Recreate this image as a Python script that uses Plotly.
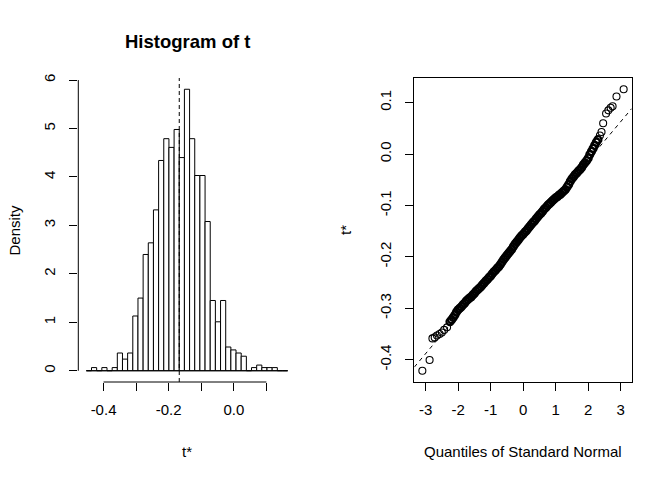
import plotly.graph_objects as go

# histogram of the bootstrap replicates t* (density scale), bins
bin_start = -0.4528
bin_width = 0.01585
density = [0, 0.065, 0, 0.065, 0, 0.065, 0.366, 0.24, 0.366, 1.13,
           1.50, 2.40, 2.64, 3.32, 4.34, 4.79, 4.61, 4.98, 4.40, 5.81,
           4.79, 4.03, 4.03, 3.08, 1.45, 1.01, 1.45, 0.49, 0.43, 0.366,
           0.30, 0, 0.065, 0.117, 0.065, 0.065, 0.065, 0, 0]
t0 = -0.1675

hist_xticks = [-0.4, -0.3, -0.2, -0.1, 0.0, 0.1]
hist_xlabels = ["-0.4", "", "-0.2", "", "0.0", ""]
hist_yticks = [0, 1, 2, 3, 4, 5, 6]

# normal Q-Q plot of t* (tails point by point,
# the dense middle band every 0.05 of a quantile)
qq_low_x = [-3.10, -2.877, -2.79, -2.72, -2.65, -2.57, -2.50, -2.43, -2.34]
qq_low_y = [-0.4214, -0.4006, -0.3585, -0.3566, -0.353, -0.350, -0.347, -0.342, -0.337]

qq_mid_x = [-2.25, -2.20, -2.15, -2.10, -2.05, -2.00, -1.95, -1.90, -1.85, -1.80,
            -1.75, -1.70, -1.65, -1.60, -1.55, -1.50, -1.45, -1.40, -1.35, -1.30,
            -1.25, -1.20, -1.15, -1.10, -1.05, -1.00, -0.95, -0.90, -0.85, -0.80,
            -0.75, -0.70, -0.65, -0.60, -0.55, -0.50, -0.45, -0.40, -0.35, -0.30,
            -0.25, -0.20, -0.15, -0.10, -0.05, 0.00, 0.05, 0.10, 0.15, 0.20,
            0.25, 0.30, 0.35, 0.40, 0.45, 0.50, 0.55, 0.60, 0.65, 0.70,
            0.75, 0.80, 0.85, 0.90, 0.95, 1.00, 1.05, 1.10, 1.15, 1.20,
            1.25, 1.30, 1.35, 1.40, 1.45, 1.50, 1.55, 1.60, 1.65, 1.70,
            1.75, 1.80, 1.85, 1.90, 1.95, 2.00, 2.05, 2.10, 2.15, 2.20,
            2.25, 2.30]
qq_mid_y = [-0.326, -0.322, -0.318, -0.313, -0.307, -0.303, -0.300, -0.297, -0.293, -0.290,
            -0.286, -0.283, -0.280, -0.278, -0.274, -0.271, -0.267, -0.264, -0.261, -0.258,
            -0.254, -0.251, -0.247, -0.244, -0.240, -0.237, -0.233, -0.229, -0.226, -0.222,
            -0.219, -0.215, -0.210, -0.205, -0.201, -0.197, -0.193, -0.189, -0.185, -0.180,
            -0.175, -0.171, -0.167, -0.163, -0.159, -0.156, -0.152, -0.149, -0.145, -0.141,
            -0.137, -0.133, -0.130, -0.126, -0.122, -0.118, -0.115, -0.111, -0.107, -0.104,
            -0.100, -0.097, -0.094, -0.091, -0.088, -0.085, -0.083, -0.080, -0.078, -0.075,
            -0.072, -0.069, -0.064, -0.059, -0.053, -0.048, -0.044, -0.040, -0.037, -0.033,
            -0.030, -0.026, -0.021, -0.017, -0.013, -0.008, -0.001, 0.005, 0.011, 0.017,
            0.023, 0.028]

qq_high_x = [2.36, 2.41, 2.46, 2.55, 2.62, 2.69, 2.75, 2.87, 3.09]
qq_high_y = [0.036, 0.043, 0.060, 0.079, 0.085, 0.090, 0.093, 0.112, 0.126]

qq_intercept = -0.1626
qq_slope = 0.0752

qq_xticks = [-3, -2, -1, 0, 1, 2, 3]
qq_yticks = [-0.4, -0.3, -0.2, -0.1, 0.0, 0.1]

FONT = "Arial, Liberation Sans, sans-serif"
W, H = 672, 480
TOP, BOTTOM = 78, 98
PLOT_H = H - TOP - BOTTOM


def px(x):
    return x / W


def py(y):
    return (H - BOTTOM - y) / PLOT_H


centers = [bin_start + (i + 0.5) * bin_width for i in range(len(density))]
bin_end = bin_start + len(density) * bin_width

qq_x = qq_low_x + qq_mid_x + qq_high_x
qq_y = qq_low_y + qq_mid_y + qq_high_y

fig = go.Figure()

fig.add_trace(go.Bar(x=centers, y=density, width=bin_width,
                     marker=dict(color="white", line=dict(color="black", width=1)),
                     xaxis="x", yaxis="y", showlegend=False))

# sparse tails: thin open circles
tail_x = qq_low_x + qq_high_x
tail_y = qq_low_y + qq_high_y
fig.add_trace(go.Scatter(x=tail_x, y=tail_y, mode="markers",
                         marker=dict(symbol="circle-open", size=7, color="black",
                                     line=dict(width=1.1, color="black")),
                         xaxis="x2", yaxis="y2", showlegend=False))
# dense middle: the many overlapping circles merge into a solid band
fig.add_trace(go.Scatter(x=qq_mid_x, y=qq_mid_y, mode="markers",
                         marker=dict(symbol="circle-open", size=7, color="black",
                                     line=dict(width=2.2, color="black")),
                         xaxis="x2", yaxis="y2", showlegend=False))

# ranges like R: 4% padding of the data range
hx_pad = 0.04 * (bin_end - bin_start)
hy_top = max(density)
qx_lo, qx_hi = min(qq_x), max(qq_x)
qy_lo, qy_hi = min(qq_y), max(qq_y)
qx_pad = 0.04 * (qx_hi - qx_lo)
qy_pad = 0.04 * (qy_hi - qy_lo)

tick_font = dict(family=FONT, size=15, color="black")

fig.update_layout(
    width=W, height=H,
    margin=dict(l=0, r=0, t=TOP, b=BOTTOM),
    paper_bgcolor="white", plot_bgcolor="white",
    font=dict(family=FONT, color="black"),
    xaxis=dict(domain=[px(78.3), px(295.7)], range=[bin_start - hx_pad, bin_end + hx_pad],
               showgrid=False, zeroline=False, showline=False,
               ticks="outside", ticklen=8, tickwidth=1, tickcolor="black",
               tickvals=hist_xticks, ticktext=hist_xlabels, tickfont=tick_font,
               ticklabelstandoff=6),
    yaxis=dict(domain=[0, 1], range=[-0.04 * hy_top, hy_top * 1.04],
               showgrid=False, zeroline=False, showline=False,
               ticks="outside", ticklen=8, tickwidth=1, tickcolor="black",
               tickvals=hist_yticks, ticktext=[str(v) for v in hist_yticks],
               tickangle=-90, tickfont=tick_font, ticklabelstandoff=8),
    xaxis2=dict(domain=[px(414.3), px(631.7)], range=[qx_lo - qx_pad, qx_hi + qx_pad],
                anchor="y2", showgrid=False, zeroline=False,
                showline=True, linecolor="black", linewidth=1, mirror=True,
                ticks="outside", ticklen=8, tickwidth=1, tickcolor="black",
                tickvals=qq_xticks, ticktext=[str(v) for v in qq_xticks],
                tickfont=tick_font, ticklabelstandoff=6),
    yaxis2=dict(domain=[0, 1], range=[qy_lo - qy_pad, qy_hi + qy_pad],
                anchor="x2", showgrid=False, zeroline=False,
                showline=True, linecolor="black", linewidth=1, mirror=True,
                ticks="outside", ticklen=8, tickwidth=1, tickcolor="black",
                tickvals=qq_yticks, ticktext=["%.1f" % v for v in qq_yticks],
                tickangle=-90, tickfont=tick_font, ticklabelstandoff=8),
)

shapes = [
    # histogram baseline (zero-height bins included)
    dict(type="line", xref="x", yref="y", x0=bin_start, x1=bin_end, y0=0, y1=0,
         line=dict(color="black", width=1)),
    # R-style axis lines spanning first to last tick
    dict(type="line", xref="x", yref="y domain", x0=hist_xticks[0], x1=hist_xticks[-1],
         y0=0, y1=0, line=dict(color="black", width=1)),
    dict(type="line", xref="x domain", yref="y", x0=0, x1=0,
         y0=hist_yticks[0], y1=hist_yticks[-1], line=dict(color="black", width=1)),
    # observed statistic
    dict(type="line", xref="x", yref="y domain", x0=t0, x1=t0, y0=0, y1=1,
         line=dict(color="black", width=1, dash="4px,3px")),
    # qqline
    dict(type="line", xref="x2", yref="y2",
         x0=qx_lo - qx_pad, x1=qx_hi + qx_pad,
         y0=qq_intercept + qq_slope * (qx_lo - qx_pad),
         y1=qq_intercept + qq_slope * (qx_hi + qx_pad),
         line=dict(color="black", width=1, dash="4px,4px")),
]
fig.update_layout(shapes=shapes)

ann = dict(xref="paper", yref="paper", showarrow=False,
           xanchor="center", yanchor="middle",
           font=dict(family=FONT, size=15, color="black"))
fig.add_annotation(ann, x=px(187), y=py(41), text="<b>Histogram of t</b>",
                   font=dict(family=FONT, size=18.5, color="black"))
fig.add_annotation(ann, x=px(187), y=py(451), text="t*")
fig.add_annotation(ann, x=px(13.5), y=py(230), text="Density", textangle=-90)
fig.add_annotation(ann, x=px(523), y=py(451), text="Quantiles of Standard Normal")
fig.add_annotation(ann, x=px(345), y=py(230), text="t*", textangle=-90)

# drop the default 8px page margin so the figure sits at the window corner
fig.write_html("out.html", config={"displayModeBar": False},
               post_script="document.body.style.margin='0';")
